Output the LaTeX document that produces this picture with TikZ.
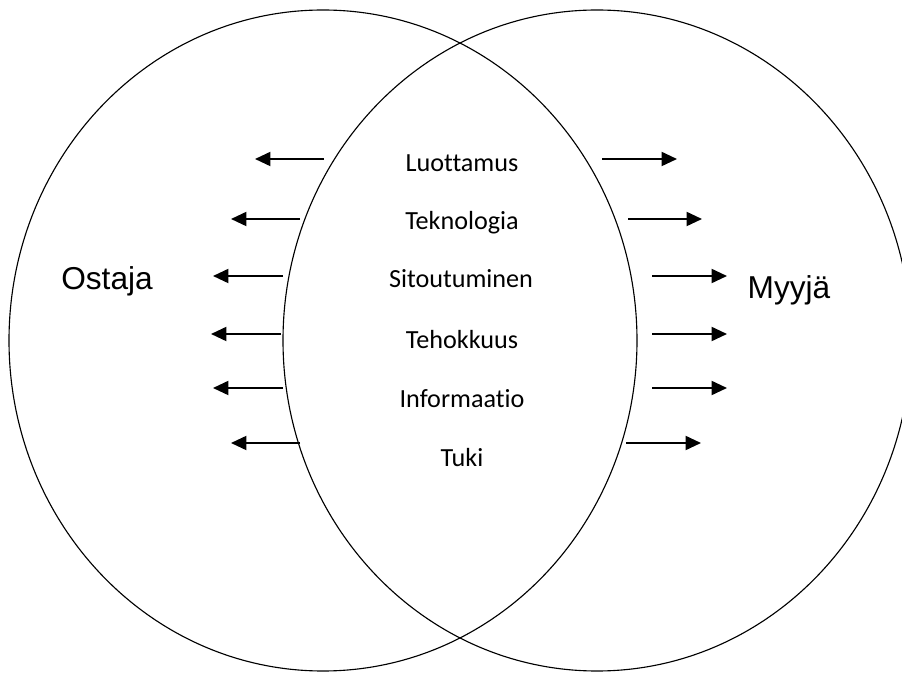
\documentclass[tikz,border=0pt]{standalone}
\usepackage{fontspec}
\setmainfont[Ligatures=NoCommon]{Carlito}
\newfontfamily\arialfont{Liberation Sans}
\usetikzlibrary{arrows.meta}
\begin{document}
\begin{tikzpicture}[x=0.025cm,y=0.025cm]
		\useasboundingbox (0,0) rectangle (902,672);
		\clip (0,0) rectangle (902,672);
		\draw [line width=0.8pt] (323,331.5) ellipse [x radius=314, y radius=330.5];
		\draw [line width=0.8pt] (597,331.5) ellipse [x radius=314, y radius=330.5];
		\coordinate (Lt1) at (324,513);
		\coordinate (Lh1) at (255,513);
		\coordinate (Lt2) at (300,453);
		\coordinate (Lh2) at (231,453);
		\coordinate (Lt3) at (283,396);
		\coordinate (Lh3) at (213,396);
		\coordinate (Lt4) at (281,338);
		\coordinate (Lh4) at (211,338);
		\coordinate (Lt5) at (283,284);
		\coordinate (Lh5) at (213,284);
		\coordinate (Lt6) at (300,229);
		\coordinate (Lh6) at (231,229);
		\coordinate (Rt1) at (602,513);
		\coordinate (Rh1) at (677,513);
		\coordinate (Rt2) at (628,453);
		\coordinate (Rh2) at (702,453);
		\coordinate (Rt3) at (652,396);
		\coordinate (Rh3) at (727,396);
		\coordinate (Rt4) at (652,338);
		\coordinate (Rh4) at (727,338);
		\coordinate (Rt5) at (652,284);
		\coordinate (Rh5) at (727,284);
		\coordinate (Rt6) at (626,229);
		\coordinate (Rh6) at (701,229);
		\draw [line width=1.4pt, -{Triangle[length=11pt,width=10pt]}] (Lt1) to (Lh1);
		\draw [line width=1.4pt, -{Triangle[length=11pt,width=10pt]}] (Lt2) to (Lh2);
		\draw [line width=1.4pt, -{Triangle[length=11pt,width=10pt]}] (Lt3) to (Lh3);
		\draw [line width=1.4pt, -{Triangle[length=11pt,width=10pt]}] (Lt4) to (Lh4);
		\draw [line width=1.4pt, -{Triangle[length=11pt,width=10pt]}] (Lt5) to (Lh5);
		\draw [line width=1.4pt, -{Triangle[length=11pt,width=10pt]}] (Lt6) to (Lh6);
		\draw [line width=1.4pt, -{Triangle[length=11pt,width=10pt]}] (Rt1) to (Rh1);
		\draw [line width=1.4pt, -{Triangle[length=11pt,width=10pt]}] (Rt2) to (Rh2);
		\draw [line width=1.4pt, -{Triangle[length=11pt,width=10pt]}] (Rt3) to (Rh3);
		\draw [line width=1.4pt, -{Triangle[length=11pt,width=10pt]}] (Rt4) to (Rh4);
		\draw [line width=1.4pt, -{Triangle[length=11pt,width=10pt]}] (Rt5) to (Rh5);
		\draw [line width=1.4pt, -{Triangle[length=11pt,width=10pt]}] (Rt6) to (Rh6);
		\node [anchor=base, font=\fontsize{18.6}{22}\selectfont] (luott) at (462,500) {Luottamus};
		\node [anchor=base, font=\fontsize{18.6}{22}\selectfont] (tekn) at (462,442) {Teknologia};
		\node [anchor=base, font=\fontsize{18.6}{22}\selectfont] (sitout) at (461,384) {Sitoutuminen};
		\node [anchor=base, font=\fontsize{18.6}{22}\selectfont] (tehok) at (462,323) {Tehokkuus};
		\node [anchor=base, font=\fontsize{18.6}{22}\selectfont] (inform) at (462,264) {Informaatio};
		\node [anchor=base, font=\fontsize{18.6}{22}\selectfont] (tuki) at (462,205) {Tuki};
		\node [anchor=base, font=\arialfont\fontsize{22.5}{27}\selectfont] (ostaja) at (107,382) {Ostaja};
		\node [anchor=base, font=\arialfont\fontsize{22.5}{27}\selectfont] (myyja) at (789,373) {Myyjä};
	\end{tikzpicture}
\end{document}
